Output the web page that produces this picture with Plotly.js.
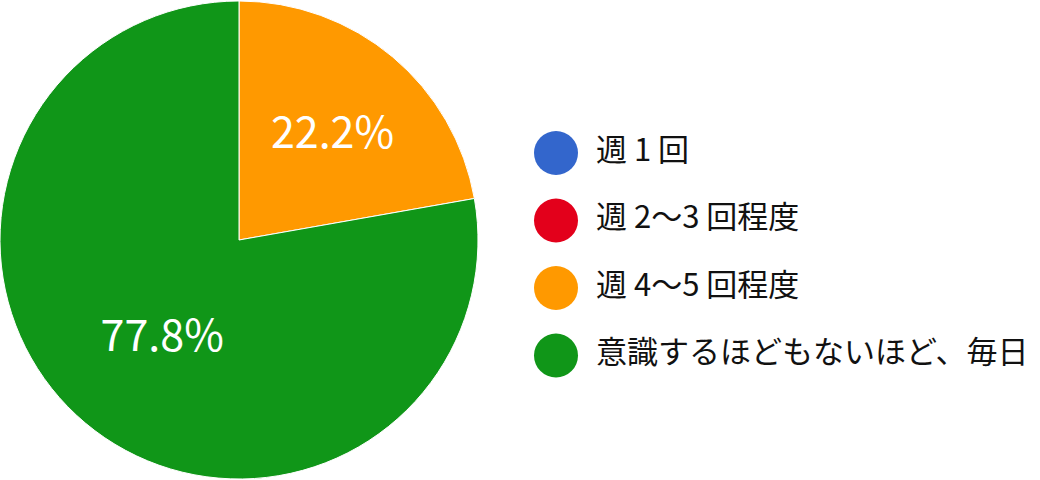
<!DOCTYPE html>
<html><head><meta charset="utf-8">
<script src="https://cdn.plot.ly/plotly-3.0.1.min.js"></script>
<style>html,body{margin:0;padding:0;background:#fff}#chart{width:1040px;height:480px}</style>
</head><body><div id="chart"></div>
<script>
const categories = ["週 1 回", "週 2〜3 回程度", "週 4〜5 回程度", "意識するほどもないほど、毎日"];
const values = [0, 0, 2, 7];
const colors = ["#3366cc", "#e3001b", "#ff9900", "#109618"];
const legendIndex = [0, 1, 2, 3];
const FONT = "'Noto Sans CJK JP', 'Noto Sans', sans-serif";

const pie = {
  type: 'pie', labels: categories, values: values,
  marker: {colors: colors, line: {color: '#ffffff', width: 1}},
  sort: false, direction: 'clockwise', rotation: 0,
  textinfo: 'percent', texttemplate: '%{percent:.1%}',
  textposition: 'inside', insidetextorientation: 'horizontal',
  textfont: {family: FONT, size: 43, color: '#ffffff'},
  domain: {x: [0, 478/1040], y: [0, 1]},
  showlegend: false, hoverinfo: 'none'
};
const legendMarkers = {
  type: 'scatter', mode: 'markers',
  x: legendIndex.map(() => 0), y: legendIndex,
  marker: {size: 44, color: colors},
  xaxis: 'x', yaxis: 'y', showlegend: false, hoverinfo: 'none', cliponaxis: false
};
const legendLabels = {
  type: 'scatter', mode: 'text',
  x: legendIndex.map(() => 40), y: legendIndex, text: categories,
  textposition: 'middle right',
  textfont: {family: FONT, size: 31, color: '#111111'},
  xaxis: 'x', yaxis: 'y', showlegend: false, hoverinfo: 'none', cliponaxis: false
};
const layout = {
  width: 1040, height: 480,
  margin: {l: 0, r: 0, t: 0, b: 0},
  paper_bgcolor: '#ffffff', plot_bgcolor: 'rgba(0,0,0,0)',
  showlegend: false,
  xaxis: {domain: [0.5, 1], range: [-36, 484], visible: false, fixedrange: true},
  yaxis: {domain: [0, 1], range: [4.844, -2.267], visible: false, fixedrange: true},
  font: {family: FONT}
};
Plotly.newPlot('chart', [pie, legendMarkers, legendLabels], layout, {displayModeBar: false, staticPlot: true});
</script></body></html>
